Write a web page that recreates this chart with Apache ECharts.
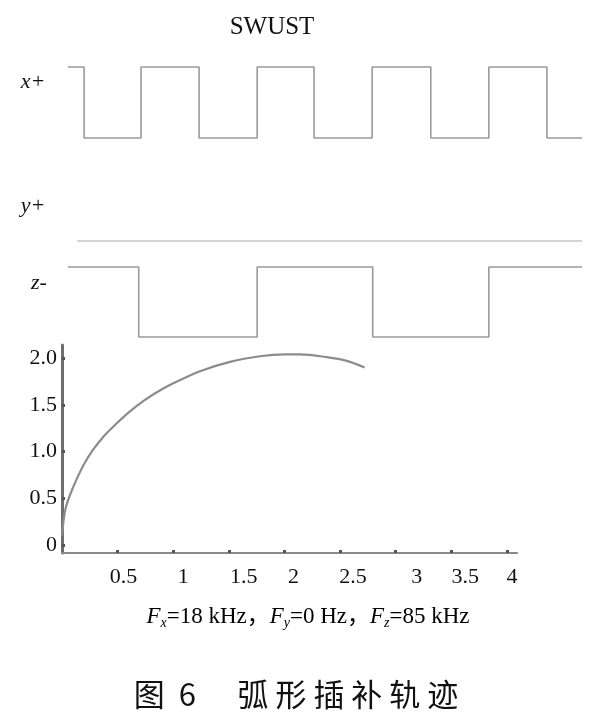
<!DOCTYPE html>
<html><head><meta charset="utf-8">
<script src="https://cdn.jsdelivr.net/npm/echarts@6/dist/echarts.min.js"></script>
<style>html,body{margin:0;padding:0;background:#fff}#c{width:595px;height:719px}</style>
</head><body><div id="c"></div>
<script>
// ---- data ----
const titleText = 'SWUST';
const signalNames = ['x+', 'y+', 'z-'];
// pulse trains: edge times (arbitrary time units) and logic levels
const xPlusTimes  = [0, 0.28, 1.27, 2.28, 3.29, 4.28, 5.29, 6.31, 7.32, 8.33, 8.94];
const xPlusLevels = [1, 0, 1, 0, 1, 0, 1, 0, 1, 0, 0];
const yPlusTimes  = [0.16, 8.94];
const yPlusLevels = [0, 0];
const zMinusTimes  = [0, 1.23, 3.29, 5.30, 7.32, 8.94];
const zMinusLevels = [1, 0, 1, 0, 1, 1];
// interpolated arc trajectory
const arcX = [0, 0.01, 0.03, 0.07, 0.13, 0.2, 0.28, 0.38, 0.49, 0.6, 0.73, 0.86, 1.0, 1.24, 1.51, 1.78, 2.0, 2.14, 2.38, 2.56, 2.72];
const arcY = [0.1, 0.22, 0.38, 0.53, 0.70, 0.87, 1.02, 1.17, 1.30, 1.42, 1.54, 1.64, 1.73, 1.86, 1.96, 2.02, 2.04, 2.04, 2.01, 1.97, 1.90];
const xTickValues = [0.5, 1, 1.5, 2, 2.5, 3, 3.5, 4];
const xTickLabels = ['0.5', '1', '1.5', '2', '2.5', '3', '3.5', '4'];
const yTickValues = [0, 0.5, 1, 1.5, 2];
const yTickLabels = ['0', '0.5', '1.0', '1.5', '2.0'];
const footParts = [['F', 'x', '=18 kHz，'], ['F', 'y', '=0 Hz，'], ['F', 'z', '=85 kHz']];
const captionText = '图  6      弧 形 插 补 轨 迹';

// ---- styles ----
const xLabelShift = [6, 10, 15, 9, 13, 21, 14, 5]; // visual offset of printed labels (px)
const serif = '"Liberation Serif", "Times New Roman", serif';

const zip = (a, b) => a.map((v, i) => [v, b[i]]);

const rich = {};
xLabelShift.forEach((s, i) => {
  rich['s' + i] = { fontFamily: serif, fontSize: 22, color: '#111', padding: [0, 0, 0, 2 * s] };
});

const signalGrids = [
  { left: 68, width: 514, top: 67, height: 71 },
  { left: 68, width: 514, top: 181, height: 60 },
  { left: 68, width: 514, top: 267, height: 70 }
];
const sigData = [zip(xPlusTimes, xPlusLevels), zip(yPlusTimes, yPlusLevels), zip(zMinusTimes, zMinusLevels)];
const sigColor = ['#9a9a9a', '#c4c4c4', '#9a9a9a'];

const grids = signalGrids.concat([{ left: 62, width: 455, top: 345, height: 208 }]);
const xAxes = signalGrids.map((g, i) => ({ gridIndex: i, type: 'value', min: 0, max: 8.94, show: false }));
const yAxes = signalGrids.map((g, i) => ({ gridIndex: i, type: 'value', min: 0, max: 1, show: false }));

xAxes.push({
  gridIndex: 3, type: 'value', min: 0, max: 4.09,
  axisLine: { show: true, onZero: false, lineStyle: { color: '#8a8a8a', width: 2 } },
  axisTick: { show: true, inside: true, length: 3, customValues: xTickValues, lineStyle: { color: '#555', width: 3 } },
  splitLine: { show: false },
  axisLabel: {
    show: true, margin: 13, customValues: xTickValues,
    formatter: (v) => { const i = xTickValues.findIndex(t => Math.abs(t - v) < 1e-6); return '{s' + i + '|' + xTickLabels[i] + '}'; },
    rich: rich
  }
});
yAxes.push({
  gridIndex: 3, type: 'value', min: -0.085, max: 2.14,
  axisLine: { show: true, lineStyle: { color: '#6e6e6e', width: 3 } },
  axisTick: { show: true, inside: true, length: 3, customValues: yTickValues, lineStyle: { color: '#555', width: 3 } },
  splitLine: { show: false },
  axisLabel: {
    show: true, margin: 5, customValues: yTickValues,
    fontFamily: serif, fontSize: 22, color: '#111',
    formatter: (v) => { const i = yTickValues.findIndex(t => Math.abs(t - v) < 1e-6); return yTickLabels[i]; }
  }
});

const series = sigData.map((d, i) => ({
  type: 'line', xAxisIndex: i, yAxisIndex: i, data: d, step: 'end', symbol: 'none', clip: false,
  lineStyle: { color: sigColor[i], width: 1.6 }, animation: false
}));
series.push({
  type: 'line', xAxisIndex: 3, yAxisIndex: 3, data: zip(arcX, arcY), smooth: 0.3, symbol: 'none', clip: false,
  lineStyle: { color: '#8c8c8c', width: 2.2 }, animation: false
});

let footText = '';
footParts.forEach(p => { footText += '{i|' + p[0] + '}{sub|' + p[1] + '}{n|' + p[2] + '}'; });

const labelPos = [[33, 82], [33, 206], [39, 283]];
const graphic = [
  { type: 'text', x: 272, y: 27, style: { text: titleText, font: '25px ' + serif, fill: '#111', align: 'center', verticalAlign: 'middle', textAlign: 'center', textVerticalAlign: 'middle' } }
];
signalNames.forEach((n, i) => {
  graphic.push({ type: 'text', x: labelPos[i][0], y: labelPos[i][1], style: { text: n, font: 'italic 22px ' + serif, fill: '#111', align: 'center', verticalAlign: 'middle', textAlign: 'center', textVerticalAlign: 'middle' } });
});
graphic.push({
  type: 'text', x: 308, y: 617,
  style: {
    text: footText, align: 'center', verticalAlign: 'middle', textAlign: 'center', textVerticalAlign: 'middle',
    rich: {
      i: { fontFamily: serif, fontStyle: 'italic', fontSize: 23, color: '#111', lineHeight: 26, verticalAlign: 'middle' },
      sub: { fontFamily: serif, fontStyle: 'italic', fontSize: 14, color: '#111', lineHeight: 26, verticalAlign: 'bottom' },
      n: { fontFamily: serif + ', "Noto Sans CJK SC"', fontSize: 23, color: '#111', lineHeight: 26, verticalAlign: 'middle' }
    }
  }
});
graphic.push({ type: 'text', x: 296, y: 694, style: { text: captionText, font: '31px "Noto Sans CJK SC"', fill: '#111', align: 'center', verticalAlign: 'middle', textAlign: 'center', textVerticalAlign: 'middle' } });

const chart = echarts.init(document.getElementById('c'), null, { renderer: 'canvas' });
chart.setOption({
  backgroundColor: '#fff',
  animation: false,
  grid: grids,
  xAxis: xAxes,
  yAxis: yAxes,
  series: series,
  graphic: graphic
});
</script></body></html>
